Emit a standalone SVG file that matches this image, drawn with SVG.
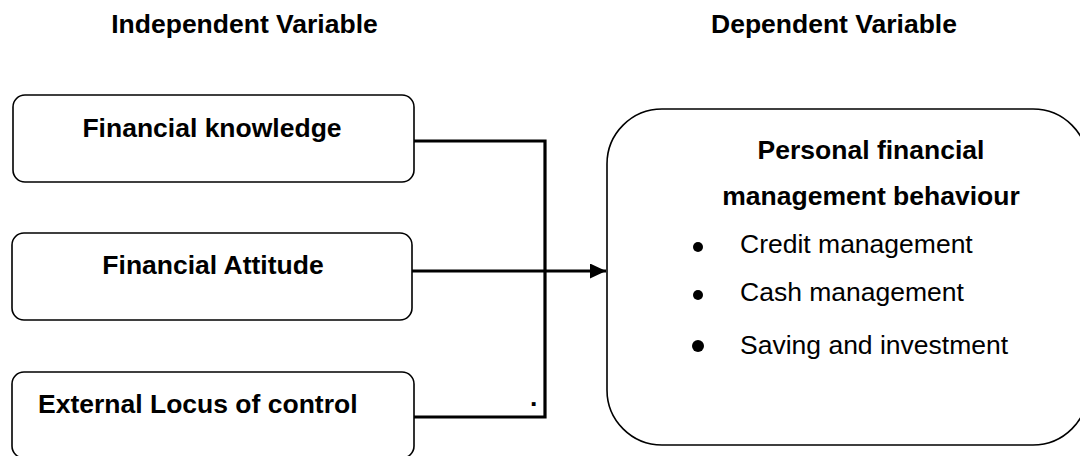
<svg xmlns="http://www.w3.org/2000/svg" width="1080" height="456" viewBox="0 0 1080 456">
<style>
.box{fill:#fff;stroke:#000;stroke-width:1.6}
.bold{font-family:"Liberation Sans",Arial,sans-serif;font-weight:bold;font-size:26.5px;fill:#000}
.reg{font-family:"Liberation Sans",Arial,sans-serif;font-size:26.5px;fill:#000}
.conn{fill:none;stroke:#000;stroke-width:3.2}
</style>
<defs>
<marker id="arrow" markerWidth="16" markerHeight="15" refX="16" refY="7.5" orient="auto" markerUnits="userSpaceOnUse">
<path d="M0,0 L16,7.5 L0,15 Z" fill="#000"/>
</marker>
</defs>
<rect width="1080" height="456" fill="#fff"/>
<g id="headings">
<text class="bold" x="244.5" y="33" text-anchor="middle">Independent Variable</text>
<text class="bold" x="834" y="33" text-anchor="middle">Dependent Variable</text>
</g>
<g id="node-knowledge">
<rect class="box" x="13" y="95" width="401" height="87" rx="12"/>
<text class="bold" x="212" y="137" text-anchor="middle">Financial knowledge</text>
</g>
<g id="node-attitude">
<rect class="box" x="12" y="233" width="400" height="87" rx="12"/>
<text class="bold" x="213" y="274" text-anchor="middle">Financial Attitude</text>
</g>
<g id="node-locus">
<rect class="box" x="12" y="372" width="402" height="86" rx="12"/>
<text class="bold" x="38" y="413">External Locus of control</text>
</g>
<g id="node-behaviour">
<rect class="box" x="607" y="109" width="481" height="336" rx="55"/>
<text class="bold" x="871" y="159" text-anchor="middle">Personal financial</text>
<text class="bold" x="871" y="205" text-anchor="middle">management behaviour</text>
<circle cx="698" cy="247" r="5" fill="#000"/>
<text class="reg" x="740" y="253">Credit management</text>
<circle cx="698" cy="295" r="5" fill="#000"/>
<text class="reg" x="740" y="301">Cash management</text>
<circle cx="698" cy="346" r="6" fill="#000"/>
<text class="reg" x="740" y="354">Saving and investment</text>
</g>
<g id="connectors">
<polyline class="conn" points="414,141 545,141 545,417 414,417"/>
<line class="conn" x1="412" y1="271" x2="606" y2="271" marker-end="url(#arrow)"/>
<text class="bold" x="530" y="406">.</text>
</g>
</svg>
